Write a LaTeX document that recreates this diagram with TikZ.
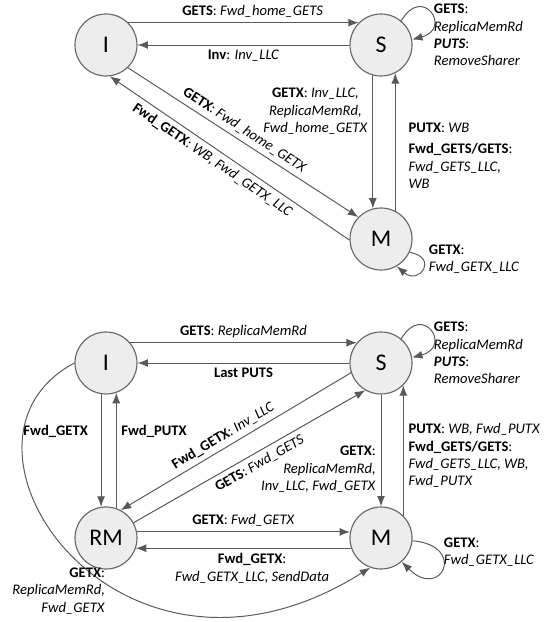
\documentclass[tikz,border=0pt]{standalone}
\usepackage{fontspec}
\setmainfont{Carlito}
\usetikzlibrary{positioning, arrows.meta}

\begin{document}
\begin{tikzpicture}[
  x=0.025cm, y=-0.025cm,
  state/.style={circle, draw=black!60, line width=0.8pt, fill=black!7, minimum size=1.55cm, inner sep=0pt, font=\fontsize{17}{20}\selectfont},
  lbl/.style={font=\fontsize{10.4}{12.4}\selectfont},
  arrow/.style={-{Latex[length=2.6mm, width=2mm]}, draw=black!65, line width=0.7pt}
]
\useasboundingbox (0,0) rectangle (548,622);

% --- I and S, the same in both machines ---
\foreach \k/\y in {1/45, 2/363} {
  \node[state] (i\k) at (106,\y) {I};
  \node[state] (s\k) at (381,\y) {S};
  % S stays S on GETS and PUTS
  \draw[arrow] (s\k.50) to[out=60, in=15, looseness=5] (s\k.10);
  \node[lbl, align=left, anchor=west] (sloop\k) at (429,{\y-10}) {\textbf{GETS}:\\ \textit{ReplicaMemRd}\\ \textbf{\textit{PUTS}}:\\ \textit{RemoveSharer}};
}

% --- FIRST MACHINE ---
\node[state] (m1) at (381,239) {M};

\draw[arrow] (i1.45) -- node[lbl, above, pos=0.54] {\textbf{GETS}: \textit{Fwd\_home\_GETS}} (s1.135);
\draw[arrow] (s1.west) -- node[lbl, below] {\textbf{Inv}: \textit{Inv\_LLC}} (i1.east);

% diagonals between I and M
\draw[arrow] (i1.-46) -- node[lbl, above, sloped, pos=0.48] {\textbf{GETX}: \textit{Fwd\_home\_GETX}} (m1.136);
\draw[arrow] (m1.182) -- node[lbl, below, sloped, pos=0.545] {\textbf{Fwd\_GETX}: \textit{WB, Fwd\_GETX\_LLC}} (i1.277);

% verticals between S and M
\draw[arrow] (s1.255) -- node[lbl, left, pos=0.27, align=center] {\textbf{GETX}: \textit{Inv\_LLC,}\\ \textit{ReplicaMemRd,}\\ \textit{Fwd\_home\_GETX}} (m1.105);
\draw[arrow] (m1.63) -- node[lbl, right=2mm, pos=0.40, align=left] {\textbf{PUTX}: \textit{WB}\\[1.1mm] \textbf{Fwd\_GETS/GETS}:\\ \textit{Fwd\_GETS\_LLC,}\\ \textit{WB}} (s1.297);

\draw[arrow] (m1.-25) to[out=-10, in=-40, looseness=4] (m1.-60);
\node[lbl, align=left, anchor=west] (mloop1) at (424,259) {\textbf{GETX}:\\ \textit{Fwd\_GETX\_LLC}};

% --- SECOND MACHINE, WITH RM ---
\node[state] (rm2) at (106,538) {RM};
\node[state] (m2) at (381,538) {M};

\draw[arrow] (i2.40) -- node[lbl, above] {\textbf{GETS}: \textit{ReplicaMemRd}} (s2.140);
\draw[arrow] (s2.west) -- node[lbl, below] {\textbf{Last PUTS}} (i2.east);

% between I and RM
\draw[arrow] (i2.261) -- node[lbl, left=2mm, pos=0.33] {\textbf{Fwd\_GETX}} (rm2.99);
\draw[arrow] (rm2.71) -- node[lbl, right, pos=0.67] {\textbf{Fwd\_PUTX}} (i2.289);

% diagonals between S and RM
\draw[arrow] (s2.198) -- node[lbl, above, sloped, pos=0.53] {\textbf{Fwd\_GETX}: \textit{Inv\_LLC}} (rm2.62);
\draw[arrow] (rm2.29) -- node[lbl, below, sloped, pos=0.52] {\textbf{GETS}: \textit{Fwd\_GETS}} (s2.240);

% verticals between S and M
\draw[arrow] (s2.south) -- node[lbl, left, pos=0.67, align=right] {\textbf{GETX}:\\ \textit{ReplicaMemRd,}\\ \textit{Inv\_LLC, Fwd\_GETX}} (m2.north);
\draw[arrow] (m2.45) -- node[lbl, right, pos=0.46, align=left] {\textbf{PUTX}: \textit{WB, Fwd\_PUTX}\\ \textbf{Fwd\_GETS/GETS}:\\ \textit{Fwd\_GETS\_LLC, WB,}\\ \textit{Fwd\_PUTX}} (s2.-45);

% between RM and M
\draw[arrow] (rm2.11) -- node[lbl, above] {\textbf{GETX}: \textit{Fwd\_GETX}} (m2.169);
\draw[arrow] (m2.199) -- node[lbl, below, pos=0.46, align=center] {\textbf{Fwd\_GETX}:\\ \textit{Fwd\_GETX\_LLC, SendData}} (rm2.-19);

\draw[arrow] (m2.-5) to[out=-5, in=-45, looseness=6] (m2.-49);
\node[lbl, align=left, anchor=west] (mloop2) at (439,552) {\textbf{GETX}:\\ \textit{Fwd\_GETX\_LLC}};

% long way round from I to M
\draw[arrow] (i2.west) .. controls (-75,442) and (118,726) .. (m2.250);
\node[lbl, align=right, anchor=east] (igetx2) at (110,591) {\textbf{GETX}:\\ \textit{ReplicaMemRd,}\\ \textit{Fwd\_GETX}};

\end{tikzpicture}
\end{document}
